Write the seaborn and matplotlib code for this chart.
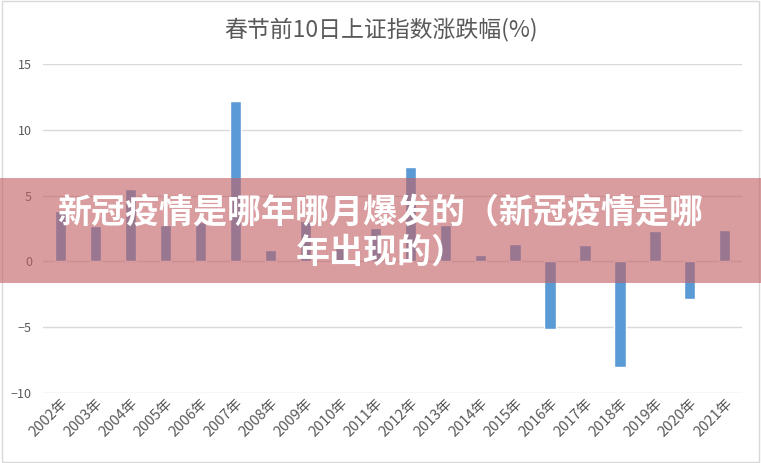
import matplotlib
matplotlib.use("Agg")
import seaborn as sns
import pandas as pd
import matplotlib.pyplot as plt
from matplotlib.patches import Rectangle

# 数据：春节前10日上证指数涨跌幅(%)
years = ["2002年", "2003年", "2004年", "2005年", "2006年", "2007年", "2008年",
         "2009年", "2010年", "2011年", "2012年", "2013年", "2014年", "2015年",
         "2016年", "2017年", "2018年", "2019年", "2020年", "2021年"]
changes = [3.8, 2.7, 5.5, 2.8, 3.0, 12.2, 0.85, 3.1, 1.0, 2.5,
           7.2, 2.8, 0.5, 1.35, -5.15, 1.28, -8.05, 2.33, -2.87, 2.42]
title = "春节前10日上证指数涨跌幅(%)"
banner = "新冠疫情是哪年哪月爆发的（新冠疫情是哪\n年出现的）"

sns.set_style("white")
plt.rcParams['font.family'] = ['Noto Sans CJK SC', 'DejaVu Sans']

df = pd.DataFrame({"year": years, "change": changes})

fig = plt.figure(figsize=(7.61, 4.63), dpi=100)
ax = fig.add_axes([0.0565, 0.151, 0.919, 0.711])
sns.barplot(data=df, x="year", y="change", color="#5B9BD5", width=0.32,
            saturation=1, ax=ax, zorder=3)

ax.set_ylim(-10, 15)
ax.set_yticks([-10, -5, 0, 5, 10, 15])
ax.yaxis.grid(True, color="#d9d9d9", linewidth=1, zorder=0)
ax.set_axisbelow(True)
for s in ax.spines.values():
    s.set_visible(False)
ax.set_xlabel("")
ax.set_ylabel("")
ax.tick_params(axis="y", length=0, labelsize=9, labelcolor="#595959", pad=8)
ax.tick_params(axis="x", length=0, labelsize=10.5, labelcolor="#595959", pad=2)
plt.setp(ax.get_xticklabels(), rotation=45, ha="right", rotation_mode="anchor")

fig.text(0.5, 1 - 29 / 463, title, ha="center", va="center", fontsize=16.5,
         color="#595959")

# 外框
fig.patches.append(Rectangle((0.002, 0.002), 0.996, 0.996, transform=fig.transFigure,
                             fill=False, edgecolor="#d9d9d9", linewidth=1))

# 红色横幅
fig.patches.append(Rectangle((0, 1 - 283 / 463), 1, 105 / 463, transform=fig.transFigure,
                             facecolor=(0.76, 0.38, 0.40), alpha=0.62, edgecolor="none",
                             zorder=10))
fig.text(0.5, 1 - 232 / 463, banner, ha="center", va="center", fontsize=24.5,
         fontweight="heavy", color="white", linespacing=1.15, zorder=11)

fig.savefig("out.png", dpi=100)
